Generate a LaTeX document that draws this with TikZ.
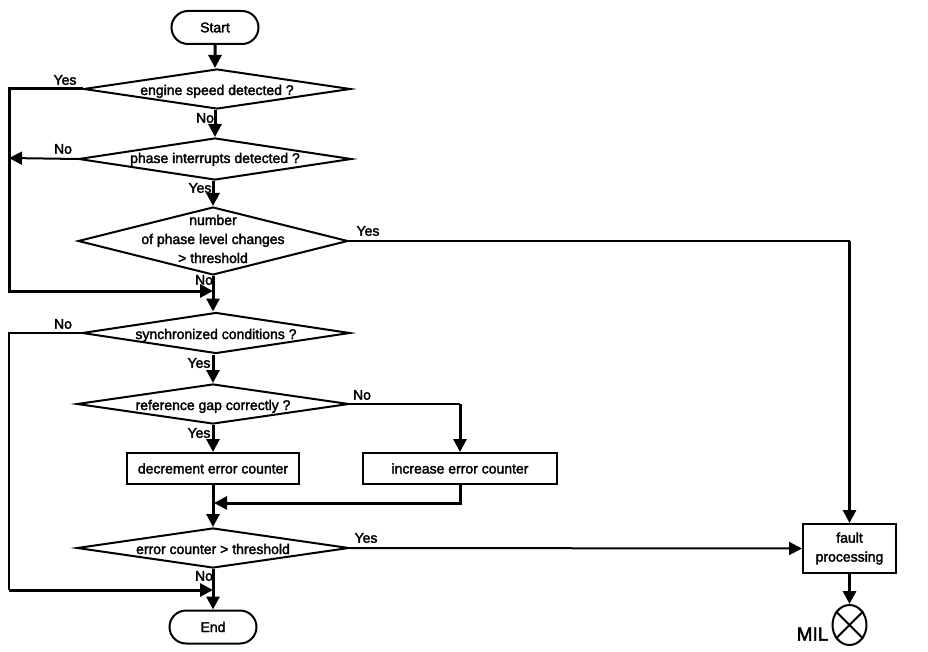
\documentclass[tikz,border=0pt]{standalone}
\usepackage{fontspec}
\setmainfont{Liberation Sans}[FakeBold=2.2]
\usetikzlibrary{arrows.meta,shapes.geometric,shapes.misc}
\tikzset{>={Triangle[length=13pt,width=13pt]}}
\tikzset{
	terminal/.style={draw,line width=2pt,rounded rectangle,minimum width=87pt,minimum height=33pt,inner sep=0pt},
	decision/.style={draw,line width=2pt,diamond,inner sep=0pt,minimum height=40pt,text height=12pt,text depth=0pt},
	process/.style={draw,line width=2pt,rectangle,align=center,inner sep=0pt},
	flow/.style={line width=3pt},
	flowthin/.style={line width=2pt},
	answer/.style={inner sep=0pt}
}
\begin{document}
\begin{tikzpicture}[x=1pt,y=-1pt,font=\fontsize{14}{19}\selectfont]
			\useasboundingbox (0,0) rectangle (928,652);
			% boxes
			\node[terminal] (start) at (215,27.5) {Start};
			\node[decision,minimum width=267pt,aspect=6.7] (speed) at (217,89) {engine speed detected ?};
			\node[decision,minimum width=273pt,minimum height=42pt,aspect=6.5,text height=8pt] (phase) at (215,159) {phase interrupts detected ?};
			\node[decision,minimum width=270pt,minimum height=68pt,label={[align=center,name=changestext,yshift=2pt]center:number\\of phase level changes\\> threshold}] (changes) at (213,241) {};
			\node[decision,minimum width=268pt,minimum height=41pt,aspect=6.6] (sync) at (216,333) {synchronized conditions ?};
			\node[decision,minimum width=272pt,aspect=6.8] (gap) at (213,404) {reference gap correctly ?};
			\node[process,minimum width=172pt,minimum height=31pt] (decr) at (213,468.5) {decrement error counter};
			\node[process,minimum width=194pt,minimum height=31pt] (incr) at (460,468.5) {increase error counter};
			\node[decision,minimum width=272pt,aspect=6.8] (counter) at (213,548) {error counter > threshold};
			\node[process,minimum width=93pt,minimum height=49pt] (fault) at (849.5,548.5) {fault\\processing};
			\node[terminal] (end) at (213,627) {End};
			\node[draw,line width=2pt,ellipse,minimum width=34pt,minimum height=40pt,inner sep=0pt] (mil) at (849.5,625) {};
			\draw[flowthin] (mil.45) -- (mil.225) (mil.135) -- (mil.315);
			\node[inner sep=0pt,font=\fontsize{19}{20}\selectfont] (miltext) at (812.5,634) {MIL};
			% answers
			\node[answer] (yes1) at (65,80) {Yes};
			\node[answer] (no1) at (205,118) {No};
			\node[answer] (no2) at (63,149) {No};
			\node[answer] (yes2) at (200,188) {Yes};
			\node[answer] (yes3) at (368,231) {Yes};
			\node[answer] (no3) at (204,280) {No};
			\node[answer] (no4) at (63,324) {No};
			\node[answer] (yes4) at (199,363) {Yes};
			\node[answer] (no5) at (362,395) {No};
			\node[answer] (yes5) at (199,433) {Yes};
			\node[answer] (yes6) at (366,538) {Yes};
			\node[answer] (no6) at (204,576) {No};
			% junctions
			\coordinate (left1) at (9,89);
			\coordinate (left2) at (9,158);
			\coordinate (left3) at (9,333);
			\coordinate (left4) at (9,590);
			\coordinate (join1) at (213,291);
			\coordinate (join2) at (213,590);
			\coordinate (join3) at (214,503);
			\coordinate (turn1) at (849.5,241);
			\coordinate (turn2) at (460,404);
			% connectors
			\draw[flow,->] (start) -- (speed.north -| start);
			\draw[flow,->] (speed.south -| phase) -- (phase.north);
			\draw[flow,->] (phase.south -| changes) -- (changes.north);
			\draw[flow,->] (changes.south) -- (sync.north -| changes);
			\draw[flow,->] (sync.south -| gap) -- (gap.north);
			\draw[flow,->] (gap.south) -- (decr.north);
			\draw[flow,->] (decr.south) -- (counter.north);
			\draw[flow,->] (counter.south) -- (end.north);
			\draw[flow,->] (fault.south) -- (mil.north);
			\draw[flow,->] (speed.west) -- (left1) |- (join1);
			\draw[flowthin,->] (phase.west) -- (left2);
			\draw[flowthin] (sync.west) -- (left3) -- (left4);
			\draw[flow,->] (left4) -- (join2);
			\draw[flowthin] (changes.east) -- (turn1);
			\draw[flow,->] (turn1) -- (fault.north);
			\draw[flowthin] (gap.east) -- (turn2);
			\draw[flow,->] (turn2) -- (incr.north);
			\draw[flow,->] (incr.south) |- (join3);
			\draw[flowthin,->] (counter.east) -- (fault.west);
\end{tikzpicture}
\end{document}
